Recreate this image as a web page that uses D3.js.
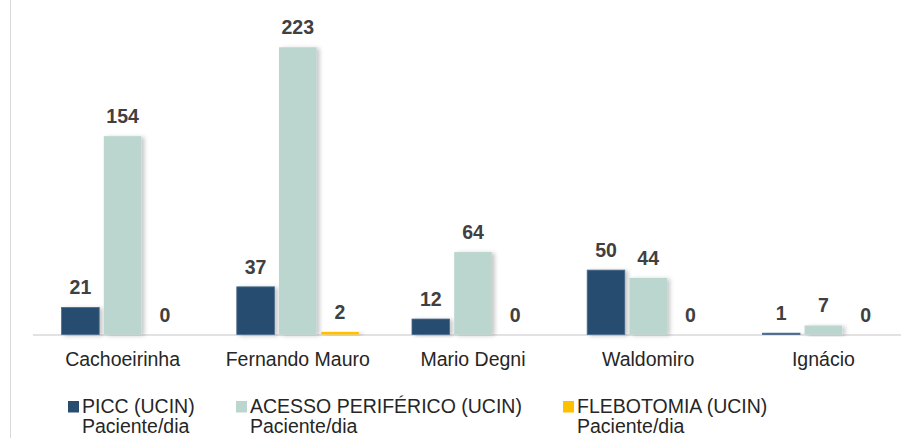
<!DOCTYPE html>
<html>
<head>
<meta charset="utf-8">
<script src="https://cdn.jsdelivr.net/npm/d3@7"></script>
<style>
  body { margin: 0; background: #fff; }
  svg { display: block; font-family: "Liberation Sans", Arial, sans-serif; }
</style>
</head>
<body>
<div id="chart"></div>
<script>
// data
const categories = ["Cachoeirinha", "Fernando Mauro", "Mario Degni", "Waldomiro", "Ignácio"];
const seriesNames = ["PICC (UCIN)", "ACESSO PERIFÉRICO (UCIN)", "FLEBOTOMIA (UCIN)"];
const picc = [21, 37, 12, 50, 1];
const acesso = [154, 223, 64, 44, 7];
const flebotomia = [0, 2, 0, 0, 0];
const colors = ["#284d70", "#bbd6cf", "#ffc000"];

const width = 901, height = 438;
const baseY = 334.5;

const svg = d3.select("#chart")
  .append("svg")
  .attr("width", width)
  .attr("height", height);

// soft shadow at the right of each bar
const defs = svg.append("defs");
const f = defs.append("filter").attr("id", "shadow")
  .attr("x", "-20%").attr("y", "-20%").attr("width", "160%").attr("height", "140%");
f.append("feDropShadow")
  .attr("dx", 3).attr("dy", 1)
  .attr("stdDeviation", 2)
  .attr("flood-color", "#000")
  .attr("flood-opacity", 0.22);

// frame line on the left
svg.append("line")
  .attr("x1", 10.5).attr("x2", 10.5)
  .attr("y1", 0).attr("y2", height)
  .attr("stroke", "#d9d9d9").attr("stroke-width", 1);

const x0 = d3.scaleBand()
  .domain(categories)
  .range([35, 35 + 175.2 * categories.length])
  .padding(0);

const x1 = d3.scaleBand()
  .domain(d3.range(seriesNames.length))
  .range([0, x0.bandwidth()])
  .paddingInner(0.109)
  .paddingOuter(0.63);

const y = d3.scaleLinear()
  .domain([0, 250])
  .range([baseY, 12.5]);

const rows = categories.map((c, i) => ({
  cat: c,
  vals: [picc[i], acesso[i], flebotomia[i]]
}));

// axis line
svg.append("line")
  .attr("x1", 33).attr("x2", width)
  .attr("y1", baseY + 0.5).attr("y2", baseY + 0.5)
  .attr("stroke", "#d9d9d9").attr("stroke-width", 1.6);

const groups = svg.selectAll("g.cat")
  .data(rows)
  .enter()
  .append("g")
  .attr("class", "cat")
  .attr("transform", d => "translate(" + x0(d.cat) + ",0)");

groups.selectAll("rect")
  .data(d => d.vals.map((v, k) => ({ v, k })))
  .enter()
  .append("rect")
  .attr("x", d => x1(d.k))
  .attr("width", x1.bandwidth())
  .attr("y", d => y(d.v))
  .attr("height", d => baseY - y(d.v))
  .attr("fill", d => colors[d.k])
  .attr("stroke", d => d.k === 0 ? "#4a6b8c" : "none")
  .attr("stroke-width", 0.8)
  .attr("filter", d => d.v > 0 ? "url(#shadow)" : null);

groups.selectAll("text.val")
  .data(d => d.vals.map((v, k) => ({ v, k })))
  .enter()
  .append("text")
  .attr("class", "val")
  .attr("x", d => x1(d.k) + x1.bandwidth() / 2)
  .attr("y", d => y(d.v) - 13)
  .attr("text-anchor", "middle")
  .attr("font-size", 19.5)
  .attr("font-weight", "bold")
  .attr("fill", "#404040")
  .text(d => d.v);

// category labels
svg.selectAll("text.cat")
  .data(categories)
  .enter()
  .append("text")
  .attr("class", "cat")
  .attr("x", d => x0(d) + x0.bandwidth() / 2)
  .attr("y", 366)
  .attr("text-anchor", "middle")
  .attr("font-size", 19.5)
  .attr("fill", "#262626")
  .text(d => d);

// legend
const legendX = [68, 236, 563];
const leg = svg.selectAll("g.leg")
  .data(seriesNames)
  .enter()
  .append("g")
  .attr("class", "leg")
  .attr("transform", (d, i) => "translate(" + legendX[i] + ",0)");

leg.append("rect")
  .attr("x", 0).attr("y", 401)
  .attr("width", 11).attr("height", 11.5)
  .attr("fill", (d, i) => colors[i]);

leg.append("text")
  .attr("x", 14).attr("y", 413)
  .attr("font-size", 19.5)
  .attr("fill", "#262626")
  .text(d => d);

leg.append("text")
  .attr("x", 14).attr("y", 433)
  .attr("font-size", 19.5)
  .attr("fill", "#262626")
  .text("Paciente/dia");
</script>
</body>
</html>
